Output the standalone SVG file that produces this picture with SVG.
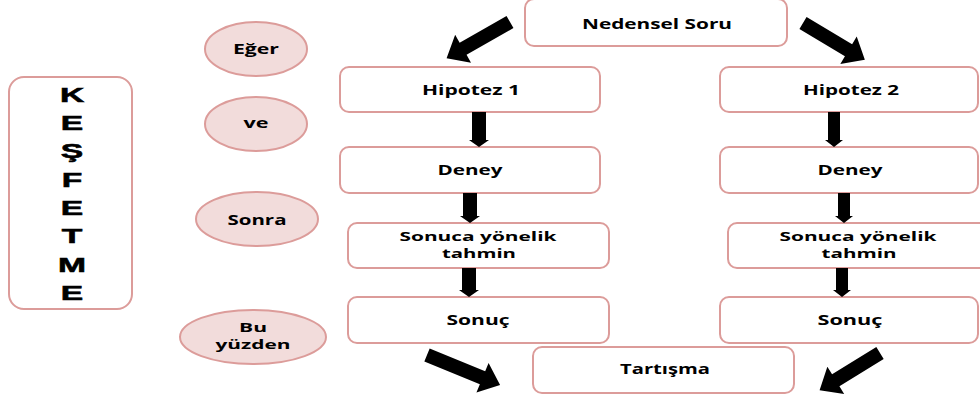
<svg xmlns="http://www.w3.org/2000/svg" width="980" height="398" viewBox="0 0 980 398">
<style>
.box{fill:#ffffff;stroke:#dc9c9a;stroke-width:2}
.ell{fill:#f2dcdb;stroke:#dc9c9a;stroke-width:2}
.t{font-family:"Open Sans","Liberation Sans",sans-serif;font-weight:bold;font-size:14px;fill:#000;text-anchor:middle}
.t2{font-size:13px}
.big{font-family:"Liberation Sans",Arial,sans-serif;font-weight:bold;font-size:21px;fill:#000;text-anchor:middle;stroke:#000;stroke-width:0.6}
.arr{fill:#000}
</style>
<rect width="980" height="398" fill="#ffffff"/>

<g id="kesfetme">
<rect class="box" x="9" y="77" width="123" height="232" rx="15" stroke-width="2.5"/>
<g transform="translate(72,0) scale(1.6,1)">
<text class="big" x="0" y="102">K</text>
<text class="big" x="0" y="130">E</text>
<text class="big" x="0" y="158">Ş</text>
<text class="big" x="0" y="187">F</text>
<text class="big" x="0" y="215">E</text>
<text class="big" x="0" y="243">T</text>
<text class="big" x="0" y="272">M</text>
<text class="big" x="0" y="300">E</text>
</g>
</g>

<g id="eger">
<ellipse class="ell" cx="256" cy="49" rx="51" ry="27"/>
<text class="t" x="256" y="54" textLength="46" lengthAdjust="spacingAndGlyphs">Eğer</text>
</g>
<g id="ve">
<ellipse class="ell" cx="256" cy="124" rx="51" ry="27"/>
<text class="t" x="256" y="128" textLength="25" lengthAdjust="spacingAndGlyphs">ve</text>
</g>
<g id="sonra">
<ellipse class="ell" cx="257" cy="219" rx="61" ry="27"/>
<text class="t" x="257" y="225" textLength="59" lengthAdjust="spacingAndGlyphs">Sonra</text>
</g>
<g id="buyuzden">
<ellipse class="ell" cx="253" cy="337" rx="73" ry="27"/>
<text class="t t2" x="253" y="332" textLength="28" lengthAdjust="spacingAndGlyphs">Bu</text>
<text class="t t2" x="253" y="349" textLength="75" lengthAdjust="spacingAndGlyphs">yüzden</text>
</g>

<g id="nedensel">
<rect class="box" x="525" y="-1" width="262" height="47" rx="9"/>
<text class="t" x="657" y="29" textLength="150" lengthAdjust="spacingAndGlyphs">Nedensel Soru</text>
</g>
<g id="hipotez1">
<rect class="box" x="340" y="67" width="260" height="45" rx="9"/>
<text class="t" x="471" y="95" textLength="98" lengthAdjust="spacingAndGlyphs">Hipotez 1</text>
</g>
<g id="deney1">
<rect class="box" x="340" y="147" width="260" height="46" rx="9"/>
<text class="t" x="470" y="175" textLength="65" lengthAdjust="spacingAndGlyphs">Deney</text>
</g>
<g id="tahmin1">
<rect class="box" x="348" y="223" width="261" height="45" rx="9"/>
<text class="t t2" x="478" y="241" textLength="157" lengthAdjust="spacingAndGlyphs">Sonuca yönelik</text>
<text class="t t2" x="479" y="258" textLength="74" lengthAdjust="spacingAndGlyphs">tahmin</text>
</g>
<g id="sonuc1">
<rect class="box" x="348" y="297" width="261" height="46" rx="9"/>
<text class="t" x="478" y="325" textLength="63" lengthAdjust="spacingAndGlyphs">Sonuç</text>
</g>
<g id="hipotez2">
<rect class="box" x="720" y="67" width="258" height="45" rx="9"/>
<text class="t" x="851" y="95" textLength="96" lengthAdjust="spacingAndGlyphs">Hipotez 2</text>
</g>
<g id="deney2">
<rect class="box" x="720" y="147" width="258" height="46" rx="9"/>
<text class="t" x="850" y="175" textLength="65" lengthAdjust="spacingAndGlyphs">Deney</text>
</g>
<g id="tahmin2">
<rect class="box" x="728" y="223" width="262" height="45" rx="9"/>
<text class="t t2" x="858" y="241" textLength="157" lengthAdjust="spacingAndGlyphs">Sonuca yönelik</text>
<text class="t t2" x="859" y="258" textLength="75" lengthAdjust="spacingAndGlyphs">tahmin</text>
</g>
<g id="sonuc2">
<rect class="box" x="720" y="297" width="258" height="46" rx="9"/>
<text class="t" x="850" y="325" textLength="65" lengthAdjust="spacingAndGlyphs">Sonuç</text>
</g>
<g id="tartisma">
<rect class="box" x="533" y="347" width="261" height="46" rx="9"/>
<text class="t" x="665" y="374" textLength="90" lengthAdjust="spacingAndGlyphs">Tartışma</text>
</g>

<g id="connectors">
<polygon class="arr" transform="translate(510,22) rotate(150.3)" points="0,-7 54,-7 54,-16 73,0 54,16 54,7 0,7"/>
<polygon class="arr" transform="translate(803,23) rotate(30.8)" points="0,-7 53,-7 53,-16 72,0 53,16 53,7 0,7"/>
<polygon class="arr" transform="translate(427,355) rotate(22.3)" points="0,-7 60,-7 60,-16 79,0 60,16 60,7 0,7"/>
<polygon class="arr" transform="translate(880,353) rotate(148.3)" points="0,-7 52,-7 52,-16 71,0 52,16 52,7 0,7"/>
<polygon class="arr" points="472,112 486,112 486,140 489,140 479,147 469,140 472,140"/>
<polygon class="arr" points="463,193 477,193 477,216 480,216 470,223 460,216 463,216"/>
<polygon class="arr" points="462,268 476,268 476,290 479,290 469,297 459,290 462,290"/>
<polygon class="arr" points="828,112 840,112 840,140 843,140 834,147 825,140 828,140"/>
<polygon class="arr" points="838,193 850,193 850,216 853,216 844,223 835,216 838,216"/>
<polygon class="arr" points="836,268 848,268 848,290 851,290 842,297 833,290 836,290"/>
</g>
</svg>
